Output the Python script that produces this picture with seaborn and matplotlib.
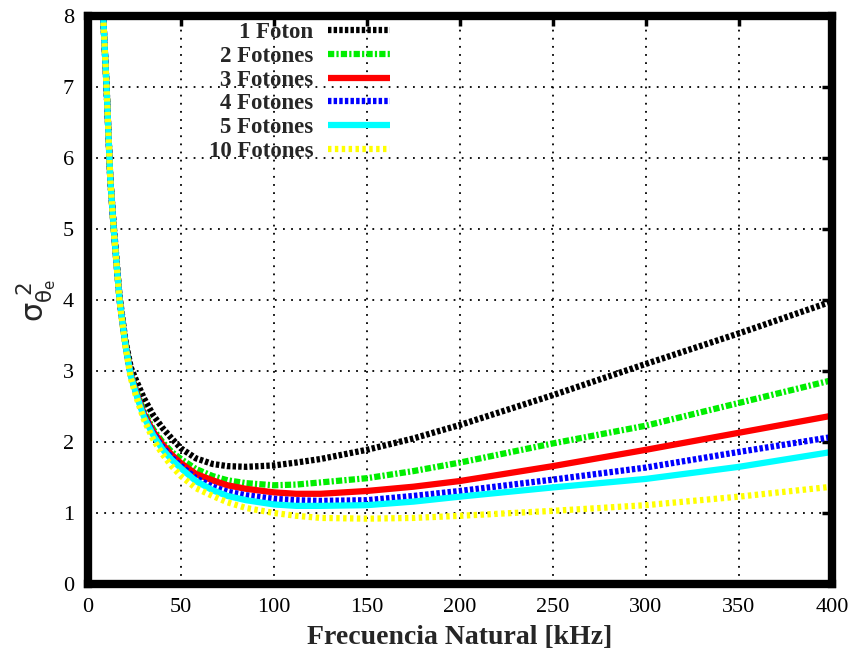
import numpy as np
import pandas as pd
import matplotlib
matplotlib.use("Agg")
import matplotlib.pyplot as plt
import seaborn as sns

# ========== 数据 ==========
freq_khz = [8, 10, 12, 14, 17, 20, 23, 26, 30, 35, 40, 45, 50, 58, 67, 75, 85,
            100, 112, 125, 150, 175, 200, 250, 300, 350, 400]

foton_1 = [8.1, 7.0, 5.7, 5.0, 4.05, 3.45, 3.05, 2.86, 2.62, 2.38, 2.2, 2.05, 1.91,
           1.77, 1.69, 1.66, 1.65, 1.67, 1.71, 1.76, 1.89, 2.05, 2.24, 2.66, 3.10,
           3.53, 3.98]
fotones_2 = [8.1, 7.0, 5.7, 4.95, 4.0, 3.42, 2.96, 2.72, 2.43, 2.18, 2.0, 1.86, 1.76,
             1.62, 1.52, 1.46, 1.42, 1.39, 1.40, 1.43, 1.49, 1.59, 1.71, 1.98, 2.23,
             2.55, 2.87]
fotones_3 = [8.1, 7.0, 5.7, 4.95, 4.0, 3.4, 2.95, 2.7, 2.4, 2.15, 1.97, 1.82, 1.70,
             1.55, 1.46, 1.39, 1.34, 1.29, 1.27, 1.27, 1.31, 1.37, 1.45, 1.66, 1.89,
             2.13, 2.37]
fotones_4 = [8.1, 7.0, 5.7, 4.95, 4.0, 3.4, 2.94, 2.68, 2.38, 2.12, 1.93, 1.78, 1.66,
             1.49, 1.37, 1.30, 1.25, 1.20, 1.18, 1.17, 1.18, 1.24, 1.31, 1.47, 1.64,
             1.86, 2.07]
fotones_5 = [8.1, 7.0, 5.7, 4.95, 4.0, 3.39, 2.93, 2.67, 2.36, 2.10, 1.90, 1.75, 1.63,
             1.45, 1.32, 1.24, 1.18, 1.12, 1.10, 1.10, 1.11, 1.16, 1.23, 1.36, 1.48,
             1.65, 1.86]
fotones_10 = [8.1, 7.0, 5.7, 4.93, 3.98, 3.36, 2.9, 2.63, 2.32, 2.04, 1.83, 1.66, 1.52,
              1.35, 1.24, 1.15, 1.07, 1.0, 0.96, 0.93, 0.92, 0.93, 0.96, 1.03, 1.11,
              1.23, 1.37]

labels = ["1 Foton", "2 Fotones", "3 Fotones", "4 Fotones", "5 Fotones", "10 Fotones"]
x_ticks = [0, 50, 100, 150, 200, 250, 300, 350, 400]
y_ticks = [0, 1, 2, 3, 4, 5, 6, 7, 8]

# ========== 样式 ==========
sns.set_style("white")
plt.rcParams["font.family"] = ["Liberation Serif", "DejaVu Serif"]
plt.rcParams["mathtext.fontset"] = "dejavusans"

series = [foton_1, fotones_2, fotones_3, fotones_4, fotones_5, fotones_10]
colors = ["black", "#00ee00", "red", "blue", "cyan", "yellow"]
styles = [(0, (0.55, 0.35)),
          (0, (1.0, 0.35, 0.35, 0.35)),
          "-",
          (0, (0.55, 0.35)),
          "-",
          (0, (0.55, 0.55))]

fig = plt.figure(figsize=(8.5, 6.63), dpi=100)
ax = fig.add_axes([0.1035, 0.1192, 0.8753, 0.8567])

for vals, lab, col, ls in zip(series, labels, colors, styles):
    df = pd.DataFrame({"f": freq_khz, "s": vals})
    sns.lineplot(data=df, x="f", y="s", ax=ax, color=col, lw=4.5,
                 linestyle=ls, label=lab, solid_capstyle="butt",
                 dash_capstyle="butt")

ax.set_xlim(0, 400)
ax.set_ylim(0, 8)
ax.set_xticks(x_ticks)
ax.set_yticks(y_ticks)
ax.grid(True, color="black", linestyle=(0, (1, 3.5)), linewidth=1.3)

for sp in ax.spines.values():
    sp.set_linewidth(6)
    sp.set_color("black")
ax.tick_params(axis="both", which="both", direction="in", length=7, width=2.5,
               top=True, right=True, labelsize=16, pad=10, colors="black")

ax.set_xlabel("Frecuencia Natural [kHz]", fontsize=20, fontweight="bold", labelpad=6)
ax.set_ylabel(r"$\mathrm{\sigma_{\theta_e}^{\ 2}}$", fontsize=22, labelpad=3)

leg = ax.legend(loc="upper right", bbox_to_anchor=(390 / 850, 1 - 22 / 663),
                bbox_transform=fig.transFigure, frameon=False, markerfirst=False,
                prop={"weight": "bold", "size": 16.5}, handlelength=2.7,
                handletextpad=0.65, labelspacing=0.12, borderpad=0, borderaxespad=0)

fig.savefig("out.png", dpi=100)
